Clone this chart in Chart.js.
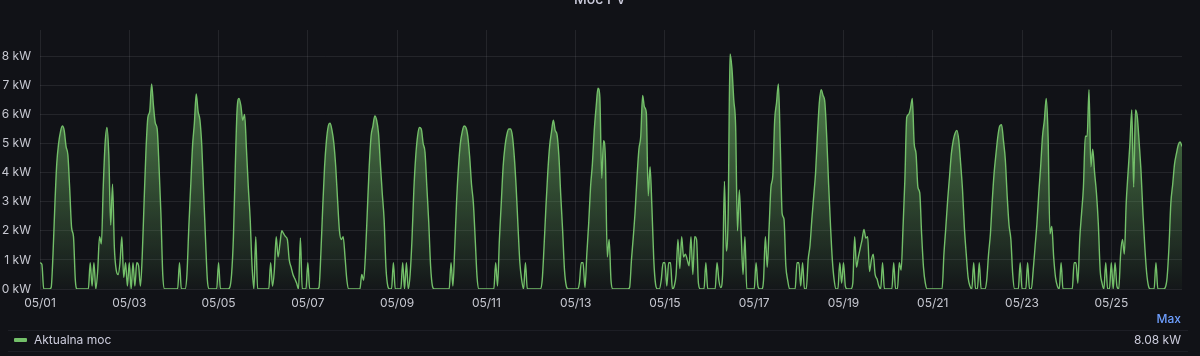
<!DOCTYPE html>
<html>
<head>
<meta charset="utf-8">
<script src="https://cdn.jsdelivr.net/npm/chart.js@4.4.1/dist/chart.umd.min.js"></script>
<style>
  html, body { margin: 0; padding: 0; background: #111217; width: 1200px; height: 356px; overflow: hidden; font-family: Inter, "Open Sans", sans-serif; }
  #wrap { position: relative; width: 1200px; height: 356px; }
  #chart { position: absolute; left: 0; top: 0; }
  .title { position: absolute; left: 0; top: -9px; width: 1200px; text-align: center; color: #ccccdc; font-size: 14px; font-weight: 500; line-height: 16px; }
  .sep { position: absolute; left: 8px; width: 1180px; height: 1px; background: rgba(204,204,220,0.07); }
  .lg { position: absolute; font-size: 12px; line-height: 16px; color: #ccccdc; white-space: nowrap; }
</style>
</head>
<body>
<div id="wrap">
  <canvas id="chart" width="1200" height="356"></canvas>
  <div class="title">Moc PV</div>
  <div class="lg" style="right:19px; top:311px; color:#6E9FFF; font-weight:500;">Max</div>
  <div class="sep" style="top:330px;"></div>
  <div style="position:absolute; left:14px; top:338px; width:13px; height:4px; border-radius:1px; background:#73BF69;"></div>
  <div class="lg" style="left:34px; top:332px;">Aktualna moc</div>
  <div class="lg" style="right:19px; top:332px;">8.08 kW</div>
  <div class="sep" style="top:351px;"></div>
</div>
<script>
// X-axis tick labels and their position (hours since 05/01 00:00)
const tickLabels = ['05/01','05/03','05/05','05/07','05/09','05/11','05/13','05/15','05/17','05/19','05/21','05/23','05/25'];
const tickHours = [0, 48, 96, 144, 192, 240, 288, 336, 384, 432, 480, 528, 576];
const yTicks = [0, 1, 2, 3, 4, 5, 6, 7, 8];

// Hourly PV power (kW), one array per day, index = hour of day
const day0501 = [0.9,0.85,0,0,0,0,0.05,1.2,2.9,4.3,5.0,5.4,5.6,5.45,4.9,4.6,3.4,2.1,1.8,0.3,0,0,0,0];
const day0502 = [0,0,0,0.9,0.1,0.9,0,0.6,1.8,1.55,3.5,5.0,5.55,4.6,2.2,3.6,1.4,0.65,0.5,0.9,1.8,0.4,0.9,0.1];
const day0503 = [0.9,0,0.9,0.1,0.9,0.8,0.1,1.2,3.05,4.8,5.9,6.1,7.05,6.3,5.7,5.5,4.2,2.6,0.5,0,0,0,0,0];
const day0504 = [0,0,0,0.9,0,0,0,0.5,2.1,3.5,4.9,5.7,6.7,6.1,5.8,4.9,3.3,1.7,0.3,0,0,0,0,0];
const day0505 = [0.9,0,0,0,0,0,0.05,0.5,1.8,4.2,6.2,6.55,6.3,5.8,6.0,4.8,3.5,2.4,0.8,0,1.8,0,0,0];
const day0506 = [0,0,0,0,0.9,0.1,0.65,1.8,1.1,1.55,2.0,1.9,1.8,1.7,1.0,0.75,0.5,0.35,0.2,0,1.75,0,0,0];
const day0507 = [0.9,0,0,0,0,0,0.05,1.2,2.8,4.2,5.1,5.6,5.7,5.45,5.0,4.2,3.05,2.0,1.7,1.8,1.1,0.3,0,0];
const day0508 = [0,0,0,0,0,0.5,0.3,1.2,2.7,4.2,5.25,5.6,5.95,5.8,5.35,4.3,3.3,2.4,0.75,0.1,0,0,0.9,0];
const day0509 = [0,0,0,0.9,0,0.9,0,0.5,1.7,3.4,4.55,5.25,5.55,5.5,5.0,4.7,3.5,2.3,0.8,0.1,0,0,0,0];
const day0510 = [0,0,0,0,0,0.9,0.1,1.45,3.05,4.2,5.0,5.4,5.6,5.55,5.25,4.55,3.6,2.95,1.7,0.4,0,0,0,0];
const day0511 = [0,0,0,0,0,0.9,0.1,1.7,2.95,4.2,4.9,5.3,5.5,5.5,5.25,4.55,3.5,2.15,0.9,0.3,0,0.9,0,0];
const day0512 = [0,0,0,0,0,0,0.3,1.45,2.8,4.0,4.9,5.4,5.8,5.45,5.3,4.55,3.2,2.0,0.65,0.1,0,0,0,0];
const day0513 = [0,0,0.2,0.9,0.9,0.05,1.2,2.25,3.5,4.3,5.45,6.25,6.9,6.6,3.8,5.1,4.45,1.1,1.7,0.3,0,0,0,0];
const day0514 = [0,0,0,0,0,0.05,1.0,1.8,2.7,3.85,4.8,5.25,6.65,6.25,6.05,3.2,4.2,2.8,1.0,0.15,0,0,0.3,0.9];
const day0515 = [0.9,0.1,0.9,0.9,0,0.1,0.5,1.7,0.7,1.8,1.1,1.2,1.0,0.8,1.8,0.5,1.8,1.7,0.2,0,0,0,0.9,0];
const day0516 = [0,0,0,0,0.9,0.3,0.05,0.5,3.7,1.3,2.6,8.08,7.6,6.5,5.6,2.0,3.4,1.9,0.5,1.8,0,0,0,0];
const day0517 = [0,0.9,0.1,0,0,0.3,1.8,0.75,2.1,3.5,3.9,5.8,6.4,7.05,5.0,2.6,2.4,0.8,0.3,0,0,0,0,0.9];
const day0518 = [0.9,0.1,0.9,0,0,1.0,1.5,2.4,3.2,4.0,5.3,6.4,6.85,6.65,6.4,5.2,3.6,2.2,1.0,0.3,0,0,0.9,0.2];
const day0519 = [0.9,0.1,0,0,0,0.2,1.8,0.75,1.1,1.4,1.7,2.05,1.75,1.8,0.6,1.0,1.2,0.5,0.35,0.1,0,0.9,0,0];
const day0520 = [0,0,0,0.9,0,0,0.9,0.65,2.1,3.75,5.9,6.0,6.2,6.55,5.0,4.65,3.5,3.3,1.9,0.75,0.2,0,0,0];
const day0521 = [0,0,0,0,0,0,1.2,2.1,3.05,3.85,4.65,5.1,5.35,5.45,5.1,4.3,3.4,2.1,1.2,0.4,0.1,0,0.9,0];
const day0522 = [0,0.9,0,0,0,0.3,1.2,1.9,3.05,4.0,4.65,5.25,5.6,5.65,5.1,4.45,3.2,2.2,1.7,0.5,0,0,0,0.9];
const day0523 = [0,0,0,0.9,0,0,0.65,1.45,2.25,3.3,4.2,5.25,5.8,6.55,5.25,1.9,2.15,1.1,0.4,0.1,0,0.9,0,0];
const day0524 = [0,0,0,0,0.9,0.9,0.2,1.7,2.6,3.5,5.25,5.25,6.85,4.2,4.8,4.0,3.3,2.25,0.65,0.2,0,0.9,0,0];
const day0525 = [0.9,0,0.9,0.1,0,1.2,1.7,1.2,2.95,4.0,5.0,6.15,3.5,6.15,5.9,5.0,4.0,2.6,1.45,0.55,0.1,0,0,0];
const day0526 = [0.9,0,0,0,0,0.05,0.4,1.45,2.95,3.6,4.3,4.65,4.95,5.05,4.9];

const dailyKW = [day0501, day0502, day0503, day0504, day0505, day0506, day0507, day0508, day0509,
  day0510, day0511, day0512, day0513, day0514, day0515, day0516, day0517, day0518, day0519,
  day0520, day0521, day0522, day0523, day0524, day0525, day0526];

const points = [];
dailyKW.forEach((arr, d) => arr.forEach((v, h) => points.push({ x: d * 24 + h, y: v })));

const labelColor = '#c7c8d1';
const gridColor = 'rgba(204,204,220,0.1)';
const font = { family: 'Inter', size: 12 };

function fillGradient(context) {
  const chart = context.chart;
  const area = chart.chartArea;
  if (!area) return 'rgba(115,191,105,0.3)';
  const g = chart.ctx.createLinearGradient(0, area.top, 0, area.bottom);
  g.addColorStop(0, 'rgba(115,191,105,0.8)');
  g.addColorStop(1, 'rgba(115,191,105,0.03)');
  return g;
}

new Chart(document.getElementById('chart'), {
  type: 'line',
  data: {
    datasets: [{
      label: 'Aktualna moc',
      data: points,
      borderColor: '#73BF69',
      borderWidth: 1.4,
      backgroundColor: fillGradient,
      fill: 'origin',
      pointRadius: 0,
      cubicInterpolationMode: 'monotone'
    }]
  },
  options: {
    responsive: false,
    animation: false,
    devicePixelRatio: 1,
    layout: { padding: { left: 0, right: 18, top: 30, bottom: 43 } },
    plugins: { legend: { display: false }, tooltip: { enabled: false }, title: { display: false } },
    scales: {
      x: {
        type: 'linear',
        min: 0,
        max: 614,
        afterBuildTicks: s => { s.ticks = tickHours.map(v => ({ value: v })); },
        afterFit: s => { s.height = 24; },
        ticks: { autoSkip: false, maxRotation: 0, padding: 7, color: labelColor, font: font,
                 callback: (v, i) => tickLabels[i] },
        grid: { color: gridColor, drawTicks: false },
        border: { display: false }
      },
      y: {
        min: 0,
        max: 8.9,
        afterBuildTicks: s => { s.ticks = yTicks.map(v => ({ value: v })); },
        afterFit: s => { s.width = 40; },
        ticks: { padding: 9, color: labelColor, font: font, callback: v => v + ' kW' },
        grid: { color: gridColor, drawTicks: false },
        border: { display: false }
      }
    }
  }
});
</script>
</body>
</html>
